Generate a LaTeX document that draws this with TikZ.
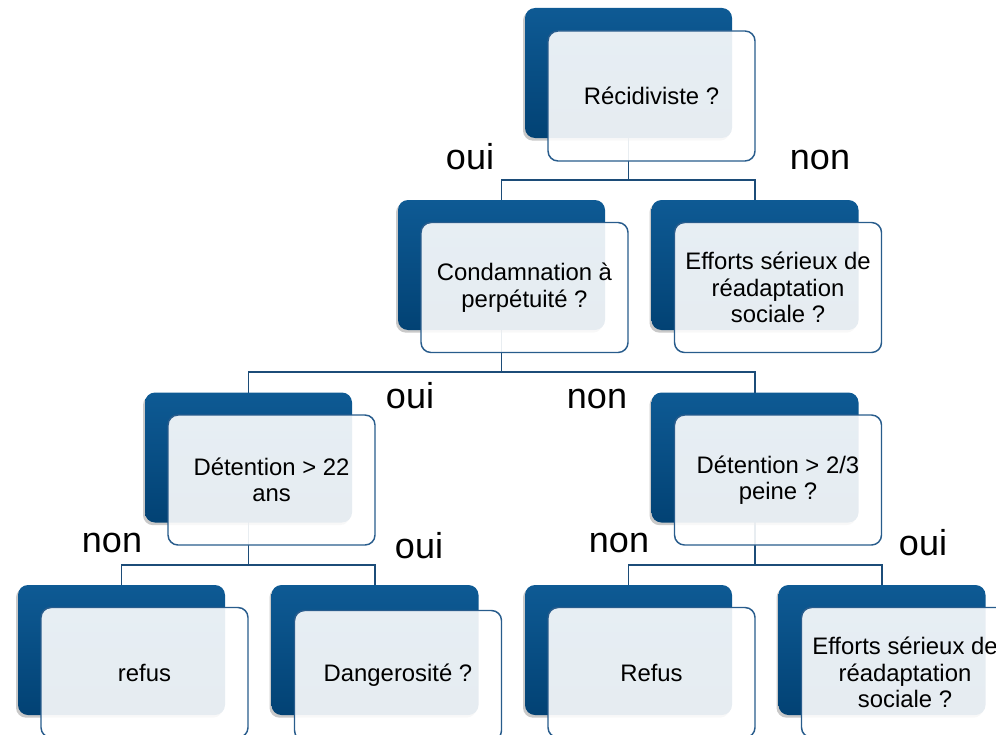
\documentclass[tikz,border=0pt]{standalone}
\usepackage{fontspec}
\setmainfont{Liberation Sans}
\usetikzlibrary{shadows,backgrounds}
\definecolor{topc}{RGB}{14,90,148}
\definecolor{botc}{RGB}{2,66,116}
\definecolor{framec}{RGB}{40,92,140}
\definecolor{connc}{RGB}{28,76,120}
\begin{document}
\begin{tikzpicture}[x=0.75pt,y=-0.75pt,
  darkbox/.style={rounded corners=7.5pt, minimum width=155.25pt, minimum height=97.5pt,
    inner sep=0pt, outer sep=0pt, top color=topc, bottom color=botc, draw=none,
    drop shadow={shadow xshift=-1.5pt, shadow yshift=-2pt, opacity=0.3, fill=black!70}},
  frontbox/.style={rounded corners=7.5pt, minimum width=155.25pt, minimum height=97.5pt,
    inner sep=0pt, outer sep=0pt, draw=framec, line width=1.1pt, fill=white,
    fill opacity=0.9, text opacity=1, draw opacity=1, align=center,
    font=\fontsize{17.9}{19.8}\selectfont},
  conn/.style={draw=connc, line width=1.1pt},
  lbl/.style={font=\fontsize{27}{30}\selectfont, inner sep=0pt}]
\useasboundingbox (0,0) rectangle (996,735);
\clip (0,0) rectangle (996,735);
% dark boxes
\node[darkbox] (d0) at (628.5,73) {};
\node[darkbox] (d1) at (501.5,265) {};
\node[darkbox] (d2) at (755,265) {};
\node[darkbox] (d3) at (248.5,457.5) {};
\node[darkbox] (d4) at (755,457.5) {};
\node[darkbox] (d5) at (121.5,650) {};
\node[darkbox] (d6) at (375,650) {};
\node[darkbox] (d7) at (628.5,650) {};
\node[darkbox] (d8) at (882,650) {};
% connectors
\begin{pgfonlayer}{background}
\coordinate (m0) at (628.5,180);
\coordinate (m1) at (501.5,372);
\coordinate (m3) at (248.5,565);
\coordinate (m4) at (755,565);
\draw[conn] (d0.center) -- (m0) -| (d1.north);
\draw[conn] (m0) -| (d2.north);
\draw[conn] (d1.center) -- (m1) -| (d3.north);
\draw[conn] (m1) -| (d4.north);
\draw[conn] (d3.center) -- (m3) -| (d5.north);
\draw[conn] (m3) -| (d6.north);
\draw[conn] (d4.center) -- (m4) -| (d7.north);
\draw[conn] (m4) -| (d8.north);
\end{pgfonlayer}
% front boxes
\node[frontbox] (f0) at (651.5,96) {Récidiviste ?};
\node[frontbox] (f1) at (524.5,287.5) {Condamnation à\\perpétuité ?};
\node[frontbox] (f2) at (778,287.5) {Efforts sérieux de\\réadaptation\\sociale ?};
\node[frontbox] (f3) at (271.5,480) {Détention > 22\\ans};
\node[frontbox] (f4) at (778,480) {Détention > 2/3\\peine ?};
\node[frontbox] (f5) at (144.5,672.5) {refus};
\node[frontbox] (f6) at (398,675.5) {Dangerosité ?};
\node[frontbox] (f7) at (651.5,672.5) {Refus};
\node[frontbox] (f8) at (905,672.5) {Efforts sérieux de\\réadaptation\\sociale ?};
% labels
\node[lbl] (l1) at (470,157) {oui};
\node[lbl] (l2) at (820,160) {non};
\node[lbl] (l3) at (410,396) {oui};
\node[lbl] (l4) at (597,399) {non};
\node[lbl] (l5) at (112,543) {non};
\node[lbl] (l6) at (419,546) {oui};
\node[lbl] (l7) at (619,543) {non};
\node[lbl] (l8) at (923,543) {oui};
\end{tikzpicture}
\end{document}
